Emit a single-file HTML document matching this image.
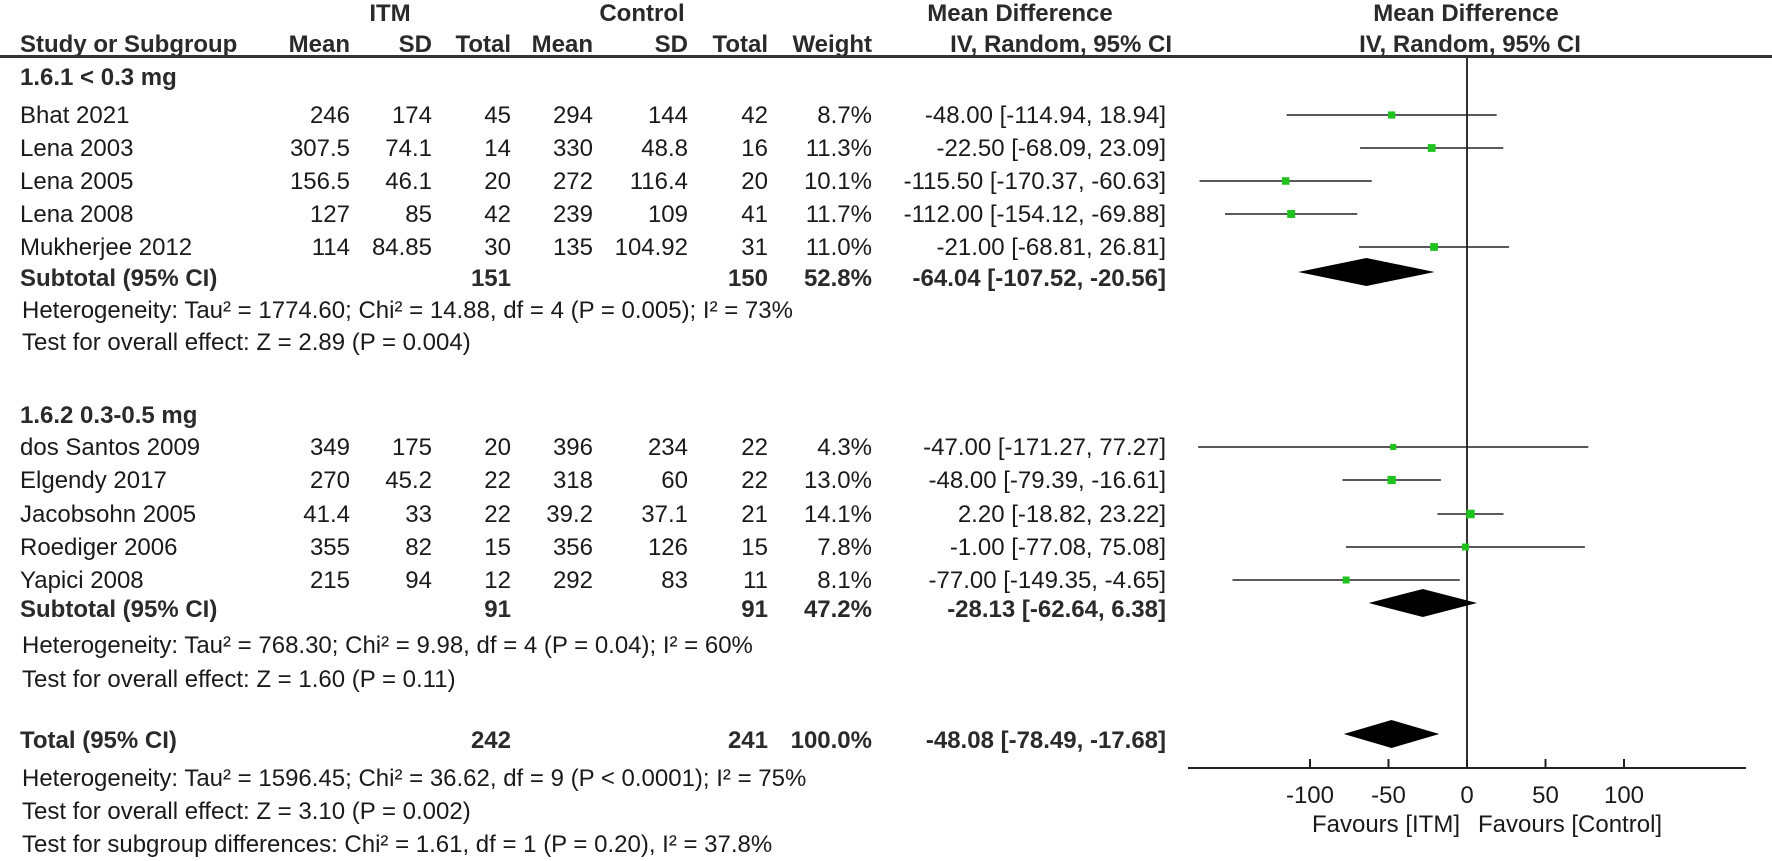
<!DOCTYPE html>
<html><head><meta charset="utf-8"><style>
html,body{margin:0;padding:0;background:#fff;}
svg{display:block;font-family:"Liberation Sans",Arial,sans-serif;}
text{fill:#1a1a1a;font-size:24px;}
.b{font-weight:bold;fill:#2a2a2a;}
</style></head><body>
<svg id="plot" width="1772" height="861" viewBox="0 0 1772 861"></svg>
<script>
const studyNames = ["Bhat 2021","Lena 2003","Lena 2005","Lena 2008","Mukherjee 2012","dos Santos 2009","Elgendy 2017","Jacobsohn 2005","Roediger 2006","Yapici 2008"];
const itmMean = ["246","307.5","156.5","127","114","349","270","41.4","355","215"];
const itmSD = ["174","74.1","46.1","85","84.85","175","45.2","33","82","94"];
const itmTotal = ["45","14","20","42","30","20","22","22","15","12"];
const ctlMean = ["294","330","272","239","135","396","318","39.2","356","292"];
const ctlSD = ["144","48.8","116.4","109","104.92","234","60","37.1","126","83"];
const ctlTotal = ["42","16","20","41","31","22","22","21","15","11"];
const weights = ["8.7%","11.3%","10.1%","11.7%","11.0%","4.3%","13.0%","14.1%","7.8%","8.1%"];
const md = [-48.00,-22.50,-115.50,-112.00,-21.00,-47.00,-48.00,2.20,-1.00,-77.00];
const ciLow = [-114.94,-68.09,-170.37,-154.12,-68.81,-171.27,-79.39,-18.82,-77.08,-149.35];
const ciHigh = [18.94,23.09,-60.63,-69.88,26.81,77.27,-16.61,23.22,75.08,-4.65];
const weightNum = [8.7,11.3,10.1,11.7,11.0,4.3,13.0,14.1,7.8,8.1];
const ciText = ["-48.00 [-114.94, 18.94]","-22.50 [-68.09, 23.09]","-115.50 [-170.37, -60.63]","-112.00 [-154.12, -69.88]","-21.00 [-68.81, 26.81]","-47.00 [-171.27, 77.27]","-48.00 [-79.39, -16.61]","2.20 [-18.82, 23.22]","-1.00 [-77.08, 75.08]","-77.00 [-149.35, -4.65]"];
const summaryLabels = ["Subtotal (95% CI)","Subtotal (95% CI)","Total (95% CI)"];
const summaryMD = [-64.04,-28.13,-48.08];
const summaryLow = [-107.52,-62.64,-78.49];
const summaryHigh = [-20.56,6.38,-17.68];
const summaryItmN = ["151","91","242"];
const summaryCtlN = ["150","91","241"];
const summaryW = ["52.8%","47.2%","100.0%"];
const summaryText = ["-64.04 [-107.52, -20.56]","-28.13 [-62.64, 6.38]","-48.08 [-78.49, -17.68]"];
const tickValues = [-100,-50,0,50,100];
const tickLabels = ["-100","-50","0","50","100"];

const svg = document.getElementById('plot');
const NS = 'http://www.w3.org/2000/svg';
const X0 = 1467, PXU = 1.57, AXY = 768;
function xs(v){ return X0 + v*PXU; }
function mk(tag, attrs, txt){
  const e = document.createElementNS(NS, tag);
  for (const k in attrs) e.setAttribute(k, attrs[k]);
  if (txt !== undefined) e.textContent = txt;
  svg.appendChild(e);
  return e;
}
function txt(x,y,s,anchor,bold,name){
  const e = mk('text',{x:x,y:y,'text-anchor':anchor||'start','class':bold?'b':''},s);
  
  
  return e;
}
txt(390,21,"ITM","middle",true,"itm-header");
txt(642,21,"Control","middle",true,"control-header");
txt(1020,21,"Mean Difference","middle",true,"md-header");
txt(1466,21,"Mean Difference","middle",true,"plot-header");
txt(20,52,"Study or Subgroup","start",true,"study-col-header");
const colX = [350,432,511,593,688,768,872];
const colH = ["Mean","SD","Total","Mean","SD","Total","Weight"];
colH.forEach((h,i)=>{ txt(colX[i],52,h,"end",true,"col-header-"+h.toLowerCase()); });
txt(1172,52,"IV, Random, 95% CI","end",true,"md-method-header");
txt(1470,52,"IV, Random, 95% CI","middle",true,"plot-method-header");
const ul = mk('rect',{x:0,y:55,width:1772,height:3,fill:'#333'});


const zl = mk('line',{x1:xs(0),y1:58,x2:xs(0),y2:AXY,stroke:'#333','stroke-width':2});



const rowY = [123,156,189,222,255,455,488,522,555,588];
txt(20,85,"1.6.1 < 0.3 mg","start",true,"subgroup-1-title");
txt(20,423,"1.6.2 0.3-0.5 mg","start",true,"subgroup-2-title");
studyNames.forEach((n,i)=>{
  const y = rowY[i];
  txt(20,y,n,"start",false,"study-name");
  const vals=[itmMean[i],itmSD[i],itmTotal[i],ctlMean[i],ctlSD[i],ctlTotal[i],weights[i]];
  vals.forEach((v,j)=>txt(colX[j],y,v,"end",false,"study-value"));
  txt(1166,y,ciText[i],"end",false,"study-ci");
  const cy = y-8;
  const l = mk('line',{x1:xs(ciLow[i]),y1:cy,x2:xs(ciHigh[i]),y2:cy,stroke:'#222','stroke-width':1.6});
  
  
  const s = 5 + weightNum[i]*0.25;
  const r = mk('rect',{x:xs(md[i])-s/2,y:cy-s/2,width:s,height:s,fill:'#1ec31e'});
  
  
});
const sumY = [286,617,748];
summaryLabels.forEach((lab,i)=>{
  const y=sumY[i];
  txt(20,y,lab,"start",true,"summary-label");
  txt(511,y,summaryItmN[i],"end",true,"summary-itm-total");
  txt(768,y,summaryCtlN[i],"end",true,"summary-ctl-total");
  txt(872,y,summaryW[i],"end",true,"summary-weight");
  txt(1166,y,summaryText[i],"end",true,"summary-ci");
  const cy=y-14, h=14;
  const d = mk('polygon',{points:`${xs(summaryLow[i])},${cy} ${xs(summaryMD[i])},${cy-h} ${xs(summaryHigh[i])},${cy} ${xs(summaryMD[i])},${cy+h}`,fill:'#000'});
  
  
});
const notes = [
 [318,"Heterogeneity: Tau² = 1774.60; Chi² = 14.88, df = 4 (P = 0.005); I² = 73%"],
 [350,"Test for overall effect: Z = 2.89 (P = 0.004)"],
 [653,"Heterogeneity: Tau² = 768.30; Chi² = 9.98, df = 4 (P = 0.04); I² = 60%"],
 [687,"Test for overall effect: Z = 1.60 (P = 0.11)"],
 [786,"Heterogeneity: Tau² = 1596.45; Chi² = 36.62, df = 9 (P < 0.0001); I² = 75%"],
 [819,"Test for overall effect: Z = 3.10 (P = 0.002)"],
 [852,"Test for subgroup differences: Chi² = 1.61, df = 1 (P = 0.20), I² = 37.8%"]
];
notes.forEach(n=>txt(22,n[0],n[1],"start",false,"stat-note"));
const ax = mk('line',{x1:1188,y1:AXY,x2:1746,y2:AXY,stroke:'#222','stroke-width':2});


tickValues.forEach((v,i)=>{
  const t = mk('line',{x1:xs(v),y1:AXY-9,x2:xs(v),y2:AXY,stroke:'#222','stroke-width':2});
  
  
  txt(xs(v),803,tickLabels[i],"middle",false,"x-tick-label");
});
txt(1460,832,"Favours [ITM]","end",false,"favours-itm-label");
txt(1478,832,"Favours [Control]","start",false,"favours-control-label");
</script>
</body></html>
